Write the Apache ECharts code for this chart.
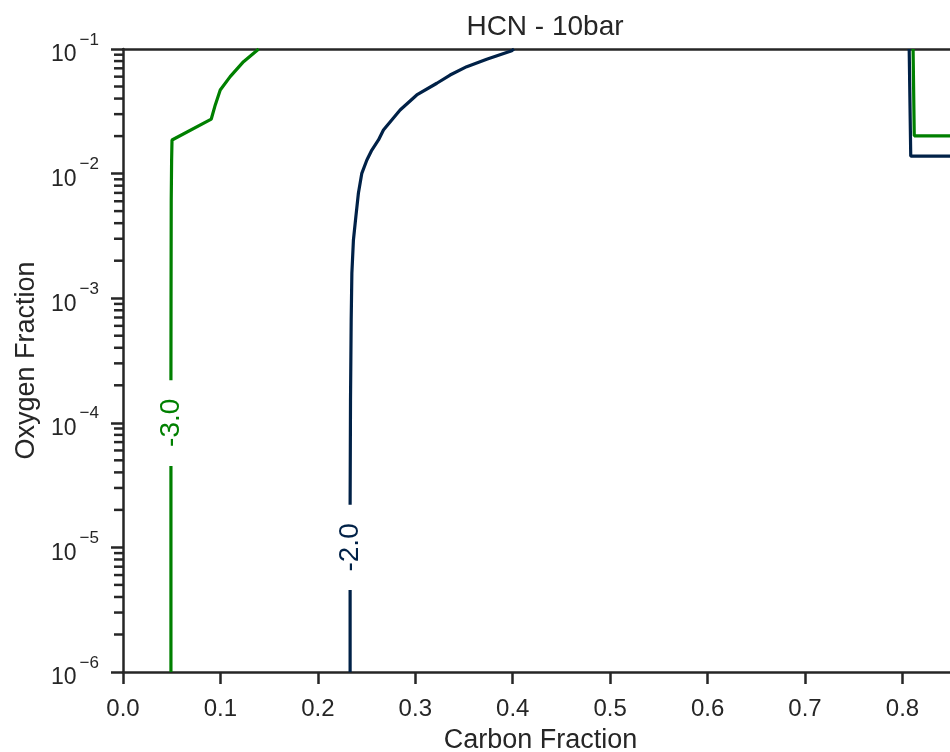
<!DOCTYPE html>
<html><head><meta charset="utf-8">
<script src="https://cdn.jsdelivr.net/npm/echarts@6/dist/echarts.min.js"></script>
<style>html,body{margin:0;padding:0;background:#fff;overflow:hidden}#c{width:950px;height:752px}</style>
</head><body><div id="c"></div>
<script>
// ---- text ----
const titleText = 'HCN - 10bar';
const xName = 'Carbon Fraction';
const yName = 'Oxygen Fraction';

// ---- axis ranges / ticks ----
const xMin = 0, xMax = 0.857, xStep = 0.1;
const yMin = 1e-6, yMax = 1e-1;
const yMinorTicks = [
  2e-6,3e-6,4e-6,5e-6,6e-6,7e-6,8e-6,9e-6,
  2e-5,3e-5,4e-5,5e-5,6e-5,7e-5,8e-5,9e-5,
  2e-4,3e-4,4e-4,5e-4,6e-4,7e-4,8e-4,9e-4,
  2e-3,3e-3,4e-3,5e-3,6e-3,7e-3,8e-3,9e-3,
  2e-2,3e-2,4e-2,5e-2,6e-2,7e-2,8e-2,9e-2
];

// ---- contour level -3.0 (green) ----
const greenLevel = '-3.0';
const greenLower = [[0.0492,1e-6],[0.0492,4.5e-5]];
const greenUpper = [
  [0.0492,2.2e-4],[0.0493,9.7e-4],[0.0495,6.1e-3],[0.0499,0.01285],
  [0.0503,0.0186],[0.0906,0.0274],[0.0947,0.0356],[0.0998,0.0469],
  [0.1100,0.0600],[0.1237,0.0791],[0.1393,0.1]
];
const greenRight = [[0.8109,0.1],[0.8121,0.0201],[0.857,0.0201]];
const greenLabelAt = [0.0492,1e-4];

// ---- contour level -2.0 (navy) ----
const navyLevel = '-2.0';
const navyLower = [[0.2331,1e-6],[0.2331,4.55e-6]];
const navyUpper = [
  [0.2331,2.2e-5],[0.2335,1.5e-4],[0.2342,6.7e-4],[0.2349,1.59e-3],
  [0.2365,2.93e-3],[0.2390,4.51e-3],[0.2416,6.95e-3],[0.2451,0.01005],
  [0.2503,0.01285],[0.2554,0.01546],[0.2622,0.01862],[0.2673,0.02239],
  [0.2844,0.03238],[0.3015,0.04276],[0.3221,0.05310],[0.3357,0.06182],
  [0.3528,0.07211],[0.3733,0.08263],[0.3990,0.09691],[0.4013,0.1]
];
const navyRight = [[0.8069,0.1],[0.8085,0.0138],[0.857,0.0138]];
const navyLabelAt = [0.2331,1e-5];

// ---- styles ----
const GREEN = '#008000', NAVY = '#002147', INK = '#262626';
const FONT = '"Liberation Sans", Arial, sans-serif';

function lineSeries(data, color) {
  return { type: 'line', data: data, showSymbol: false, symbol: 'none', smooth: false,
    lineStyle: { color: color, width: 3.2 }, silent: true, z: 3, animation: false };
}
function labelSeries(pt, text, color) {
  return { type: 'scatter', data: [pt], symbolSize: 1, silent: true, z: 4, clip: false,
    itemStyle: { color: 'rgba(0,0,0,0)', opacity: 1 },
    label: { show: true, position: 'inside', formatter: text, rotate: 90, color: color,
      fontSize: 28, fontFamily: FONT, opacity: 1 }, animation: false };
}

const chart = echarts.init(document.getElementById('c'), null, { renderer: 'canvas' });
chart.setOption({
  animation: false,
  backgroundColor: '#fff',
  title: { text: titleText, left: 540, textAlign: 'center', top: 8,
    textStyle: { fontSize: 28, fontWeight: 'normal', color: INK, fontFamily: FONT } },
  grid: { left: 123, top: 49, width: 835, height: 623, containLabel: false, outerBoundsMode: 'none' },
  xAxis: [{
    type: 'value', min: xMin, max: xMax, interval: xStep,
    name: xName, nameLocation: 'middle', nameGap: 55,
    nameTextStyle: { fontSize: 27, color: INK, fontFamily: FONT },
    axisLine: { show: true, onZero: false, lineStyle: { color: INK, width: 2.5 } },
    axisTick: { show: true, inside: false, length: 12, lineStyle: { color: INK, width: 2.5 } },
    axisLabel: { show: true, margin: 25, fontSize: 24, color: INK, fontFamily: FONT, showMaxLabel: false,
      formatter: v => (Math.abs(v * 10 - Math.round(v * 10)) < 1e-6 ? v.toFixed(1) : '') },
    splitLine: { show: false }
  }, {
    type: 'value', min: xMin, max: xMax, position: 'top',
    axisLine: { show: true, onZero: false, lineStyle: { color: INK, width: 2.5 } },
    axisTick: { show: false }, axisLabel: { show: false }, splitLine: { show: false }
  }],
  yAxis: [{
    type: 'log', logBase: 10, min: yMin, max: yMax,
    name: yName, nameLocation: 'middle', nameGap: 83,
    nameTextStyle: { fontSize: 27, color: INK, fontFamily: FONT },
    axisLine: { show: true, onZero: false, lineStyle: { color: INK, width: 2.5 } },
    axisTick: { show: true, inside: false, length: 12, lineStyle: { color: INK, width: 2.5 } },
    axisLabel: { show: true, margin: 24, color: INK, fontFamily: FONT, padding: [12, 0, 0, 0],
      formatter: v => '{b|10}{s|\u2212' + (-Math.round(Math.log10(v))) + '}',
      rich: {
        b: { fontSize: 23, lineHeight: 47, color: INK, fontFamily: FONT, verticalAlign: 'middle' },
        s: { fontSize: 17, lineHeight: 17, color: INK, fontFamily: FONT, verticalAlign: 'top', padding: [0, 0, 0, 3] }
      } },
    splitLine: { show: false }, minorTick: { show: false }
  }, {
    type: 'log', logBase: 10, min: yMin, max: yMax, position: 'right',
    axisLine: { show: true, onZero: false, lineStyle: { color: INK, width: 2.5 } },
    axisTick: { show: false }, axisLabel: { show: false }, splitLine: { show: false }
  }],
  series: [
    { type: 'scatter', data: yMinorTicks.map(v => [xMin, v]), symbol: 'rect',
      symbolSize: [9, 2.5], symbolOffset: [-4.5, 0], itemStyle: { color: INK, opacity: 1 },
      silent: true, clip: false, z: 5, animation: false },
    lineSeries(greenLower, GREEN),
    lineSeries(greenUpper, GREEN),
    lineSeries(greenRight, GREEN),
    lineSeries(navyLower, NAVY),
    lineSeries(navyUpper, NAVY),
    lineSeries(navyRight, NAVY),
    labelSeries(greenLabelAt, greenLevel, GREEN),
    labelSeries(navyLabelAt, navyLevel, NAVY)
  ]
});
</script>
</body></html>
